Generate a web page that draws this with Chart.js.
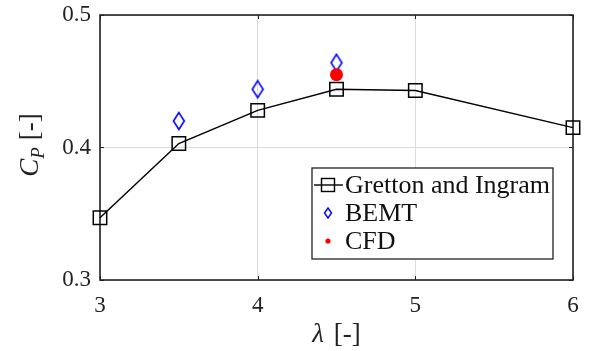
<!DOCTYPE html>
<html>
<head>
<meta charset="utf-8">
<script src="https://cdn.jsdelivr.net/npm/chart.js@4"></script>
<style>
  html, body { margin: 0; padding: 0; background: #fff; }
  #wrap { width: 589px; height: 351px; }
</style>
</head>
<body>
<div id="wrap"><canvas id="cpChart" width="589" height="351"></canvas></div>
<script>
// tip speed ratio vs power coefficient
const grettonTsr = [3, 3.5, 4, 4.5, 5, 6];
const grettonCp = [0.347, 0.403, 0.428, 0.444, 0.443, 0.415];
const bemtTsr = [3.5, 4, 4.5];
const bemtCp = [0.420, 0.444, 0.464];
const cfdTsr = [4.5];
const cfdCp = [0.455];
const xTicks = [3, 4, 5, 6];
const yTicks = [0.3, 0.4, 0.5];

const SERIF = '"Liberation Serif", "Times New Roman", serif';

// hollow tall diamond marker
function diamondMarker(w, h, color, lw) {
    const c = document.createElement('canvas');
    c.width = w; c.height = h;
    const g = c.getContext('2d');
    g.strokeStyle = color;
    g.lineWidth = lw;
    g.beginPath();
    g.moveTo(w / 2, lw);
    g.lineTo(w - lw, h / 2);
    g.lineTo(w / 2, h - lw);
    g.lineTo(lw, h / 2);
    g.closePath();
    g.stroke();
    return c;
}

const bigDiamond = diamondMarker(14, 20, '#0000ff', 1.6);

const toPts = (xs, ys) => xs.map((x, i) => ({ x, y: ys[i] }));

// box, axis titles and legend drawn on top of the plot
const framePlugin = {
    id: 'frame',
    beforeDatasetsDraw(chart) {
        const { ctx, chartArea: a } = chart;
        const xs = chart.scales.x, ys = chart.scales.y;
        ctx.save();

        // inward ticks
        ctx.strokeStyle = '#222';
        ctx.lineWidth = 1;
        xTicks.forEach(v => {
            const px = Math.round(xs.getPixelForValue(v)) + 0.5;
            ctx.beginPath();
            ctx.moveTo(px, a.bottom); ctx.lineTo(px, a.bottom - 4);
            ctx.moveTo(px, a.top); ctx.lineTo(px, a.top + 4);
            ctx.stroke();
        });
        yTicks.forEach(v => {
            const py = Math.round(ys.getPixelForValue(v)) + 0.5;
            ctx.beginPath();
            ctx.moveTo(a.left, py); ctx.lineTo(a.left + 4, py);
            ctx.moveTo(a.right, py); ctx.lineTo(a.right - 4, py);
            ctx.stroke();
        });

        // axes box
        ctx.strokeStyle = '#222';
        ctx.lineWidth = 1.6;
        ctx.strokeRect(a.left, a.top, a.right - a.left, a.bottom - a.top);
        ctx.restore();
    },
    afterDraw(chart) {
        const { ctx, chartArea: a } = chart;
        ctx.save();
        ctx.fillStyle = '#222';
        ctx.textBaseline = 'alphabetic';

        // x title: λ [-]
        const lam = '\u03bb';
        ctx.font = 'italic 27px ' + SERIF;
        const wl = ctx.measureText(lam).width;
        ctx.font = '27px ' + SERIF;
        const wb = ctx.measureText(' [-]').width + 3;
        let tx = (a.left + a.right) / 2 - (wl + wb) / 2;
        ctx.textAlign = 'left';
        ctx.font = 'italic 27px ' + SERIF;
        ctx.fillText(lam, tx, 342);
        ctx.font = '27px ' + SERIF;
        ctx.fillText(' [-]', tx + wl + 3, 342);

        // y title: C_P [-]
        ctx.save();
        ctx.translate(38, 145);
        ctx.rotate(-Math.PI / 2);
        ctx.font = 'italic 27px ' + SERIF;
        const wc = ctx.measureText('C').width;
        ctx.font = 'italic 19px ' + SERIF;
        const wp = ctx.measureText('P').width;
        ctx.font = '27px ' + SERIF;
        const wr = ctx.measureText(' [-]').width;
        let ty = -(wc + wp + wr) / 2;
        ctx.font = 'italic 27px ' + SERIF;
        ctx.fillText('C', ty, 0);
        ctx.font = 'italic 19px ' + SERIF;
        ctx.fillText('P', ty + wc, 6);
        ctx.font = '27px ' + SERIF;
        ctx.fillText(' [-]', ty + wc + wp, 0);
        ctx.restore();

        // legend
        const lx = 312, ly = 168, lw = 241, lh = 91;
        ctx.fillStyle = '#fff';
        ctx.fillRect(lx, ly, lw, lh);
        ctx.strokeStyle = '#222';
        ctx.lineWidth = 1.3;
        ctx.strokeRect(lx, ly, lw, lh);

        const rows = [185, 213, 241];
        const mx = lx + 16;
        chart.data.datasets.forEach((ds, i) => {
            const y = rows[i];
            if (i === 0) {
                ctx.strokeStyle = '#000';
                ctx.lineWidth = 1.4;
                ctx.beginPath();
                ctx.moveTo(lx + 2, y); ctx.lineTo(lx + 31, y);
                ctx.stroke();
                ctx.strokeRect(mx - 6.5, y - 6.5, 13, 13);
            } else if (i === 1) {
                ctx.strokeStyle = '#0000ff';
                ctx.lineWidth = 1.4;
                ctx.beginPath();
                ctx.moveTo(mx, y - 5); ctx.lineTo(mx + 3.5, y);
                ctx.lineTo(mx, y + 5); ctx.lineTo(mx - 3.5, y);
                ctx.closePath();
                ctx.stroke();
            } else {
                ctx.fillStyle = '#ff0000';
                ctx.beginPath();
                ctx.arc(mx, y, 2.6, 0, Math.PI * 2);
                ctx.fill();
            }
            ctx.fillStyle = '#111';
            ctx.font = '26px ' + SERIF;
            ctx.textAlign = 'left';
            ctx.textBaseline = 'middle';
            ctx.fillText(ds.label, lx + 33, y + 1);
        });

        ctx.restore();
    }
};

new Chart(document.getElementById('cpChart'), {
    type: 'scatter',
    data: {
        datasets: [
            {
                label: 'Gretton and Ingram',
                data: toPts(grettonTsr, grettonCp),
                showLine: true,
                clip: false,
                borderColor: '#000',
                borderWidth: 1.5,
                pointStyle: 'rect',
                pointRadius: 9.5,
                pointBorderWidth: 1.5,
                pointBorderColor: '#000',
                pointBackgroundColor: 'transparent',
                order: 2
            },
            {
                label: 'BEMT',
                data: toPts(bemtTsr, bemtCp),
                clip: false,
                pointStyle: bigDiamond,
                order: 1
            },
            {
                label: 'CFD',
                data: toPts(cfdTsr, cfdCp),
                clip: false,
                pointStyle: 'circle',
                pointRadius: 6.5,
                pointBackgroundColor: '#ff0000',
                pointBorderColor: '#ff0000',
                pointBorderWidth: 0,
                order: 0
            }
        ]
    },
    options: {
        responsive: false,
        animation: false,
        layout: { padding: { top: 15, right: 16, left: 0, bottom: 0 } },
        plugins: { legend: { display: false }, tooltip: { enabled: false } },
        scales: {
            x: {
                type: 'linear',
                min: 3, max: 6,
                afterFit: s => {
                    s.height = 71;
                    s.paddingLeft = 0; s.paddingRight = 0;
                },
                afterBuildTicks: s => { s.ticks = xTicks.map(v => ({ value: v })); },
                ticks: { color: '#222', font: { family: SERIF, size: 23 }, padding: 12 },
                grid: { color: '#dcdcdc', drawTicks: false },
                border: { display: false }
            },
            y: {
                min: 0.3, max: 0.5,
                afterFit: s => {
                    s.width = 100;
                    s.paddingTop = 0; s.paddingBottom = 0;
                },
                afterBuildTicks: s => { s.ticks = yTicks.map(v => ({ value: v })); },
                ticks: {
                    color: '#222', font: { family: SERIF, size: 23 }, padding: 9,
                    callback: v => v.toFixed(1)
                },
                grid: { color: '#dcdcdc', drawTicks: false },
                border: { display: false }
            }
        }
    },
    plugins: [framePlugin]
});
</script>
</body>
</html>
